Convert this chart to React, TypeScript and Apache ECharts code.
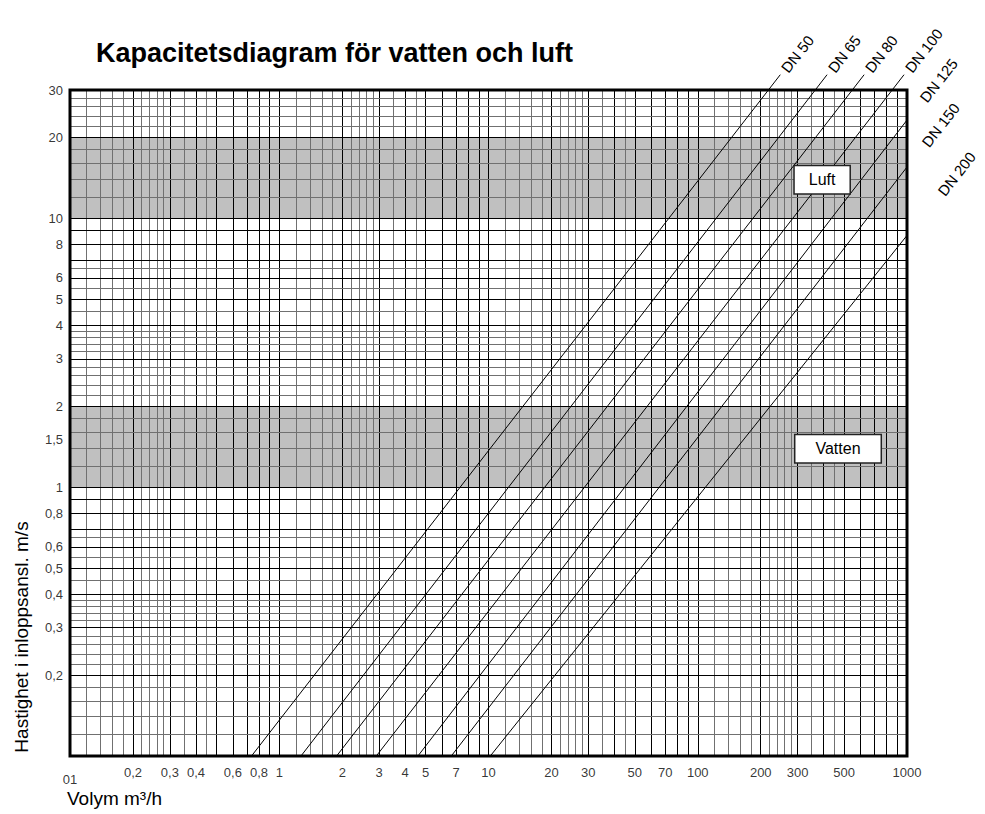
import React, { useEffect, useRef } from "react";
import * as echarts from "echarts";

const FONT = "'Liberation Sans', Arial, Helvetica, sans-serif";

const TITLE = "Kapacitetsdiagram för vatten och luft";
const X_NAME = "Volym m³/h";
const Y_NAME = "Hastighet i inloppsansl. m/s";

const xTickValues = [0.1, 0.2, 0.3, 0.4, 0.6, 0.8, 1, 2, 3, 4, 5, 7, 10, 20, 30, 50, 70, 100, 200, 300, 500, 1000];
const xTickLabels = ["01", "0,2", "0,3", "0,4", "0,6", "0,8", "1", "2", "3", "4", "5", "7", "10", "20", "30", "50", "70", "100", "200", "300", "500", "1000"];
const yTickValues = [30, 20, 10, 8, 6, 5, 4, 3, 2, 1.5, 1, 0.8, 0.6, 0.5, 0.4, 0.3, 0.2];
const yTickLabels = ["30", "20", "10", "8", "6", "5", "4", "3", "2", "1,5", "1", "0,8", "0,6", "0,5", "0,4", "0,3", "0,2"];

const xGridSteps = [1, 1.2, 1.4, 1.6, 1.8, 2, 2.2, 2.4, 2.6, 2.8, 3, 3.5, 4, 4.5, 5, 6, 7, 8, 9];
const yGridSteps = [1, 1.2, 1.4, 1.6, 1.8, 2, 2.2, 2.4, 2.6, 2.8, 3, 3.2, 3.4, 3.6, 3.8, 4, 4.5, 5, 5.5, 6, 6.5, 7, 8, 9];
const xDecades = [0.1, 1, 10, 100];
const yDecades = [0.1, 1, 10];

const dnNames = ["DN 50", "DN 65", "DN 80", "DN 100", "DN 125", "DN 150", "DN 200"];
const dnStartFlow = [0.737, 1.27, 1.88, 2.91, 4.6, 6.64, 10.2];
const dnStartVelocity = [0.1, 0.1, 0.1, 0.1, 0.1, 0.1, 0.1];
const dnEndFlow = [248, 415, 624, 968, 1141, 1166, 1391];
const dnEndVelocity = [34.2, 34.2, 34.2, 34.2, 26.5, 18.1, 11.9];

const bandNames = ["Luft", "Vatten"];
const bandLow = [10, 1];
const bandHigh = [20, 2];
const bandLabelFlow = [393, 468];
const bandLabelVelocity = [13.9, 1.39];

const X_MIN = 0.1, X_MAX = 1000, Y_MIN = 0.1, Y_MAX = 30;

function gridValues(decades: number[], steps: number[], min: number, max: number) {
  const out: { v: number; major: boolean }[] = [];
  decades.forEach((d) =>
    steps.forEach((s) => {
      const v = +(d * s).toPrecision(6);
      if (v > min && v < max) out.push({ v, major: Number.isInteger(s) });
    })
  );
  return out;
}

export default function App() {
  const ref = useRef<HTMLDivElement>(null);
  useEffect(() => {
    document.body.style.margin = "0";
    if (!ref.current) return;
    const chart = echarts.init(ref.current, undefined, { renderer: "svg" });
    const xg = gridValues(xDecades, xGridSteps, X_MIN, X_MAX);
    const yg = gridValues(yDecades, yGridSteps, Y_MIN, Y_MAX);
    const black = "#000";
    const gray = "#707070";

    const option: any = {
      animation: false,
      backgroundColor: "#fff",
      title: {
        text: TITLE,
        left: 91,
        top: 34,
        textStyle: { fontFamily: FONT, fontSize: 27, fontWeight: "bold", color: "#000" },
      },
      grid: { left: 70, top: 90, right: 78, bottom: 58 },
      xAxis: {
        type: "log",
        logBase: 10,
        min: X_MIN,
        max: X_MAX,
        axisLine: { show: false },
        axisTick: { show: false },
        axisLabel: { show: false },
        splitLine: { show: false },
      },
      yAxis: {
        type: "log",
        logBase: 10,
        min: Y_MIN,
        max: Y_MAX,
        axisLine: { show: false },
        axisTick: { show: false },
        axisLabel: { show: false },
        splitLine: { show: false },
      },
      graphic: [
        {
          type: "text",
          left: 67,
          top: 789,
          style: { text: X_NAME, fontFamily: FONT, fontSize: 19, fill: "#000" },
        },
        {
          type: "text",
          x: 21,
          y: 637,
          rotation: Math.PI / 2,
          style: { text: Y_NAME, fontFamily: FONT, fontSize: 19, fill: "#000", align: "center", verticalAlign: "middle" },
        },
      ],
      series: [
        {
          type: "line",
          name: "bands",
          data: [],
          silent: true,
          z: 1,
          markArea: {
            silent: true,
            z: 1,
            itemStyle: { color: "#c0c0c0" },
            label: { show: false },
            data: bandNames.map((_, i) => [{ yAxis: bandLow[i] }, { yAxis: bandHigh[i] }]),
          },
        },
        {
          type: "line",
          name: "grid",
          data: [],
          silent: true,
          z: 2,
          markLine: {
            silent: true,
            z: 2,
            symbol: ["none", "none"],
            label: { show: false },
            lineStyle: { type: "solid", width: 1 },
            emphasis: { disabled: true },
            data: [
              ...xg.map((g) => ({ xAxis: g.v, lineStyle: { color: g.major ? black : gray, width: 1, type: "solid" } })),
              ...yg.map((g) => ({ yAxis: g.v, lineStyle: { color: g.major ? black : gray, width: 1, type: "solid" } })),
            ],
          },
        },
        ...dnNames.map((name, i) => ({
          type: "line",
          name,
          z: 3,
          clip: false,
          silent: true,
          symbol: "circle",
          symbolSize: 0,
          showSymbol: true,
          itemStyle: { color: "#000" },
          lineStyle: { color: "#000", width: 1 },
          data: [
            { value: [dnStartFlow[i], dnStartVelocity[i]], label: { show: false } },
            {
              value: [dnEndFlow[i], dnEndVelocity[i]],
              label: {
                show: true,
                formatter: name,
                rotate: 52,
                position: [4, -4],
                align: "left",
                verticalAlign: "middle",
                fontFamily: FONT,
                fontSize: 15,
                color: "#000",
              },
            },
          ],
        })),
        {
          type: "line",
          name: "frame",
          data: [],
          silent: true,
          z: 4,
          markArea: {
            silent: true,
            z: 4,
            itemStyle: { color: "rgba(0,0,0,0)", borderColor: "#000", borderWidth: 3 },
            label: { show: false },
            data: [[{ xAxis: X_MIN, yAxis: Y_MIN }, { xAxis: X_MAX, yAxis: Y_MAX }]],
          },
        },
        {
          type: "scatter",
          name: "xticks",
          z: 5,
          clip: false,
          silent: true,
          symbolSize: 0,
          itemStyle: { color: "#000" },
          label: { show: true, position: "bottom", fontFamily: FONT, fontSize: 13, color: "#000" },
          data: xTickValues.map((v, i) => ({
            value: [v, Y_MIN],
            label: { formatter: xTickLabels[i], distance: i === 0 ? 17 : 10 },
          })),
        },
        {
          type: "scatter",
          name: "yticks",
          z: 5,
          clip: false,
          silent: true,
          symbolSize: 0,
          itemStyle: { color: "#000" },
          label: { show: true, position: "left", distance: 7, fontFamily: FONT, fontSize: 13, color: "#000" },
          data: yTickValues.map((v, i) => ({
            value: [X_MIN, v],
            label: { formatter: yTickLabels[i] },
          })),
        },
        {
          type: "scatter",
          name: "bandlabels",
          z: 6,
          clip: false,
          silent: true,
          symbolSize: 0,
          itemStyle: { color: "#000", opacity: 1 },
          label: {
            show: true,
            position: "inside",
            opacity: 1,
            fontFamily: FONT,
            fontSize: 16,
            color: "#000",
            backgroundColor: "#ffffff",
            borderColor: "#222",
            borderWidth: 1.5,
          },
          data: bandNames.map((n, i) => ({
            value: [bandLabelFlow[i], bandLabelVelocity[i]],
            label: { formatter: n, padding: i === 0 ? [6, 14, 5, 14] : [6, 20, 5, 20] },
          })),
        },
      ],
    };
    chart.setOption(option);
    return () => chart.dispose();
  }, []);
  return <div ref={ref} style={{ width: 985, height: 814 }} />;
}
